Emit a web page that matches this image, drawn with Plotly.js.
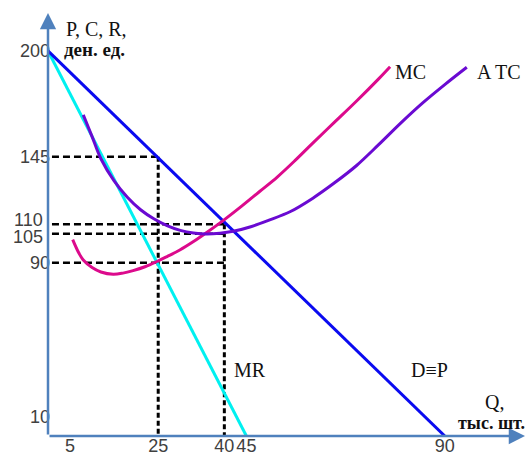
<!DOCTYPE html>
<html>
<head>
<meta charset="utf-8">
<script src="https://cdn.plot.ly/plotly-3.0.1.min.js"></script>
<style>
  html, body { margin: 0; padding: 0; background: #fff; }
  #plot { width: 530px; height: 452px; }
</style>
</head>
<body>
<div id="plot"></div>
<script>
// demand and marginal revenue (straight lines)
var demandQ = [0, 90];
var demandP = [200, 0];
var mrQ = [0, 45];
var mrP = [200, 0];

// marginal cost
var mcQ = [5.6, 7, 8, 10, 12, 14.8, 17, 19.3, 22, 24.6, 27, 29.9, 33, 36, 39.8, 44, 48, 52, 56, 60, 65, 70, 75, 77.6];
var mcP = [102, 95, 91.4, 87.5, 85.2, 84, 84.6, 85.9, 87.9, 90.5, 93.2, 96.6, 101, 105.7, 112, 119.5, 127, 134.5, 143, 152, 163, 174, 185.5, 191.8];

// average total cost
var atcQ = [8, 10, 12, 15, 18, 21, 24, 27, 30, 33, 36, 39, 42, 46, 50, 55, 60, 65, 70, 75, 80, 85, 90, 95];
var atcP = [166.8, 155.5, 144, 132.5, 124, 117.5, 112.8, 109.3, 106.8, 105.4, 104.9, 105.3, 106.3, 108.7, 112, 116.6, 123.4, 131.5, 140.5, 151.3, 162.5, 173, 182.5, 191.5];

// guide levels
var levelP = [145, 110, 105, 90];
var levelQ = [25, 40, 40, 40];
var dropQ = [25, 40];
var dropP = [145, 110];

var yTicks = [200, 145, 90, 10];
var yTicksClose = [110, 105];
var xTicks = [5, 25, 40, 45, 90];

var axisColor = '#4f81bd';
var serif = '"Liberation Serif", "Times New Roman", serif';
var sans = '"Liberation Sans", Arial, sans-serif';

var data = [];

levelP.forEach(function (p, i) {
  data.push({
    x: [0.9, levelQ[i]], y: [p, p],
    mode: 'lines', type: 'scatter', hoverinfo: 'skip',
    line: {color: 'black', width: 2.5, dash: '7px,4px'}
  });
});
dropQ.forEach(function (q, i) {
  data.push({
    x: [q, q], y: [dropP[i], 0],
    mode: 'lines', type: 'scatter', hoverinfo: 'skip',
    line: {color: 'black', width: 3, dash: '5px,3px'}
  });
});

data.push({
  x: mrQ, y: mrP, mode: 'lines', type: 'scatter', hoverinfo: 'skip',
  line: {color: '#00f0f0', width: 3}
});
data.push({
  x: demandQ, y: demandP, mode: 'lines', type: 'scatter', hoverinfo: 'skip',
  line: {color: '#0a0af0', width: 3}
});
data.push({
  x: mcQ, y: mcP, mode: 'lines', type: 'scatter', hoverinfo: 'skip',
  line: {color: '#dc0a8c', width: 3, shape: 'spline', smoothing: 1}
});
data.push({
  x: atcQ, y: atcP, mode: 'lines', type: 'scatter', hoverinfo: 'skip',
  line: {color: '#6a0ad2', width: 3, shape: 'spline', smoothing: 1}
});

function label(text, x, y, size, bold) {
  return {
    text: bold ? '<b>' + text + '</b>' : text,
    x: x, y: y, xref: 'x', yref: 'y', showarrow: false,
    font: {family: serif, size: size, color: '#111'}
  };
}

var annotations = [
  {x: 0, y: 219.7, ax: 0, ay: 0, xref: 'x', yref: 'y', axref: 'x', ayref: 'y',
   showarrow: true, arrowhead: 2, arrowsize: 1.3, arrowwidth: 2.5, arrowcolor: axisColor, text: ''},
  {x: 108.2, y: 0, ax: 0, ay: 0, xref: 'x', yref: 'y', axref: 'x', ayref: 'y',
   showarrow: true, arrowhead: 2, arrowsize: 1.3, arrowwidth: 2.5, arrowcolor: axisColor, text: ''},
  label('P, C, R,', 10.9, 211.4, 20, false),
  label('ден. ед.', 10.6, 200.5, 19, true),
  label('MC', 82.3, 189, 20, false),
  label('A TC', 102.3, 189, 20, false),
  label('MR', 45.8, 34.3, 20, false),
  label('D≡P', 86.6, 34.3, 20, false),
  label('Q,', 101.3, 17.7, 20, false),
  label('тыс. шт.', 100.6, 6.8, 18, true)
];

// the two close price levels get nudged apart like in the source drawing
yTicksClose.forEach(function (v, i) {
  annotations.push({
    text: String(v), x: 0, y: v, xref: 'paper', yref: 'y',
    xanchor: 'right', xshift: -3, yshift: i === 0 ? 4 : -3, showarrow: false,
    font: {family: sans, size: 18, color: '#404040'}
  });
});

var layout = {
  width: 530,
  height: 452,
  margin: {l: 48, r: 5, t: 13, b: 16},
  paper_bgcolor: 'white',
  plot_bgcolor: 'white',
  showlegend: false,
  xaxis: {
    range: [0, 108.2],
    showgrid: false, zeroline: false, showline: false,
    tickvals: xTicks, ticks: '', ticklabelstandoff: -3,
    tickfont: {family: sans, size: 18, color: '#404040'}
  },
  yaxis: {
    range: [0, 219.7],
    showgrid: false, zeroline: false, showline: false,
    tickvals: yTicks, ticks: '', ticklabelstandoff: -3,
    tickfont: {family: sans, size: 18, color: '#404040'}
  },
  annotations: annotations
};

Plotly.newPlot('plot', data, layout, {displayModeBar: false, staticPlot: true});
</script>
</body>
</html>
